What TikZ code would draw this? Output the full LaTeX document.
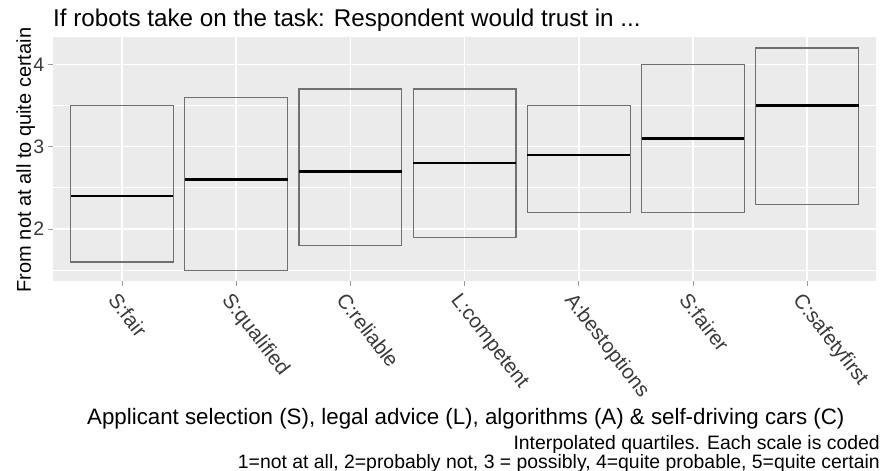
\documentclass[tikz,border=0pt]{standalone}
\usepackage{fontspec}
\setmainfont{Liberation Sans}
\definecolor{panelbg}{HTML}{EBEBEB}
\definecolor{boxedge}{HTML}{707070}
\definecolor{ticktext}{HTML}{3A3A3A}
\definecolor{tickmark}{HTML}{9A9A9A}
\tikzset{
  majorgrid/.style={white, line width=1.5pt},
  minorgrid/.style={white, line width=0.7pt},
  quartbox/.style={boxedge, line width=1.2pt},
  medianbar/.style={black, line width=2.6pt},
  axtick/.style={tickmark, line width=0.8pt},
  ticklabel/.style={inner sep=0pt, text=ticktext, font=\fontsize{19.5}{19.5}\selectfont},
  catlabel/.style={ticklabel, font=\fontsize{20.5}{20.5}\selectfont,
                   anchor=north west, rotate=-52},
  axtitle/.style={inner sep=0pt, text=black},
}
\begin{document}
\begin{tikzpicture}[x=1pt, y=1pt]
\useasboundingbox (0,0) rectangle (884,471);
\fill[white] (0,0) rectangle (884,471);

% title
\node[anchor=base west, inner sep=0pt, font=\fontsize{24.2}{24.2}\selectfont] (title)
  at (53,444) {If robots take on the task: Respondent would trust in ...};

% plotting panel: x in category units, y in scale units
\begin{scope}[shift={(7.8,77.4)}, x=114.2pt, y=82.3pt]
  \fill[panelbg] (0.4,1.365) rectangle (7.6,4.335);
  \foreach \v in {1.5,2.5,3.5}
    \draw[minorgrid] (0.4,\v) -- (7.6,\v);
  \foreach \v in {2,3,4}
    \draw[majorgrid] (0.4,\v) -- (7.6,\v);
  \foreach \i in {1,...,7}
    \draw[majorgrid] (\i,1.365) -- (\i,4.335);

  % quartile boxes with medians
  \foreach \i/\lo/\me/\hi in {1/1.6/2.4/3.5, 2/1.5/2.6/3.6, 3/1.8/2.7/3.7,
                              4/1.9/2.8/3.7, 5/2.2/2.9/3.5, 6/2.2/3.1/4.0,
                              7/2.3/3.5/4.2} {
    \draw[quartbox] (\i-0.45,\lo) rectangle (\i+0.45,\hi);
    \draw[medianbar] (\i-0.45,\me) -- (\i+0.45,\me);
    \draw[axtick] (\i,1.365) -- ++(0,-5pt);
    \coordinate (tk\i) at (\i,1.365);
  }

  % value axis
  \foreach \v in {2,3,4} {
    \draw[axtick] (0.4,\v) -- ++(-5pt,0);
    \node[ticklabel, anchor=east] (ylab\v) at ([xshift=-9pt]0.4,\v) {\v};
  }
\end{scope}

% category labels, slanted
\foreach \i/\lab in {1/S:fair, 2/S:qualified, 3/C:reliable, 4/L:competent,
                     5/A:bestoptions, 6/S:fairer, 7/C:safetyfirst}
  \node[catlabel] (xlab\i) at ([xshift=-3pt, yshift=-10pt]tk\i) {\lab};

% axis titles
\node[axtitle, rotate=90, anchor=base, font=\fontsize{20}{20}\selectfont] (ytitle)
  at (31,311) {From not at all to quite certain};
\node[axtitle, anchor=base west, font=\fontsize{22.3}{22.3}\selectfont] (xtitle)
  at (87,46) {Applicant selection (S), legal advice (L), algorithms (A) \& self-driving cars (C)};

% caption
\node[axtitle, anchor=base east, font=\fontsize{19.4}{19.4}\selectfont] (cap1)
  at (880,21) {Interpolated quartiles. Each scale is coded};
\node[axtitle, anchor=base east, font=\fontsize{19.4}{19.4}\selectfont] (cap2)
  at (880,2) {1=not at all, 2=probably not, 3 = possibly, 4=quite probable, 5=quite certain};
\end{tikzpicture}
\end{document}
